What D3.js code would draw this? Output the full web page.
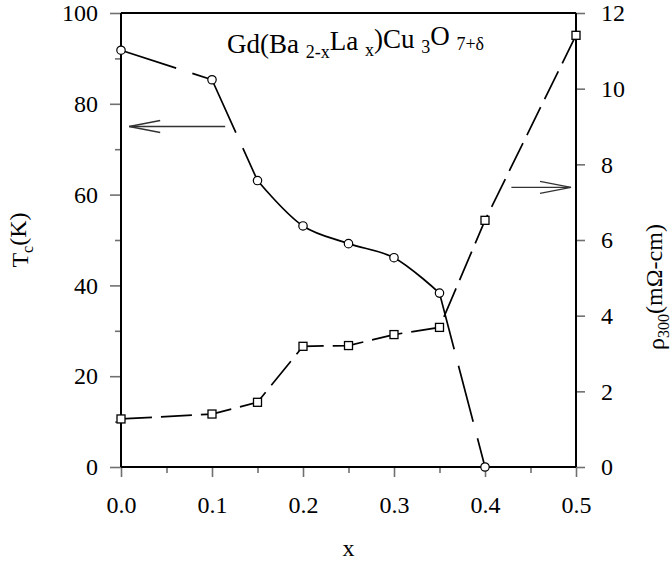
<!DOCTYPE html>
<html>
<head>
<meta charset="utf-8">
<script src="https://cdn.jsdelivr.net/npm/d3@7"></script>
<style>
  html, body { margin: 0; padding: 0; background: #fff; }
  svg { display: block; }
  text { font-family: "Liberation Serif", "Times New Roman", serif; fill: #000; }
</style>
</head>
<body>
<svg id="chart" width="672" height="570"></svg>
<script>
// ---------- data ----------
const tcX    = [0, 0.10, 0.15, 0.20, 0.25, 0.30, 0.35, 0.40];
const tcVals = [91.8, 85.3, 63.1, 53.1, 49.2, 46.1, 38.3, 0];
const rhoX    = [0, 0.10, 0.15, 0.20, 0.25, 0.30, 0.35, 0.40, 0.50];
const rhoVals = [1.27, 1.40, 1.71, 3.19, 3.21, 3.50, 3.69, 6.52, 11.41];

const xTicks      = [0, 0.1, 0.2, 0.3, 0.4, 0.5];
const xMinorTicks = [0.05, 0.15, 0.25, 0.35, 0.45];
const yLTicks      = [0, 20, 40, 60, 80, 100];
const yLMinorTicks = [10, 30, 50, 70, 90];
const yRTicks      = [0, 2, 4, 6, 8, 10, 12];

// ---------- layout ----------
const W = 672, H = 570;
const L = 121, R = 576, T = 13, B = 467;

const svg = d3.select("#chart");

const x  = d3.scaleLinear().domain([0, 0.5]).range([L, R]);
const yL = d3.scaleLinear().domain([0, 100]).range([B, T]);
const yR = d3.scaleLinear().domain([0, 12]).range([B, T]);

const tickColor = "#707070";
const fontSize = 24;

function styleAxis(g) {
  g.select(".domain").remove();
  g.selectAll(".tick line").attr("stroke", tickColor).attr("stroke-width", 1.6);
  g.selectAll("text").style("font-size", fontSize + "px")
    .style("font-family", '"Liberation Serif", "Times New Roman", serif');
}

// bottom axis
svg.append("g").attr("transform", `translate(0,${B})`)
  .call(d3.axisBottom(x).tickValues(xTicks).tickFormat(d3.format(".1f")).tickSize(10).tickPadding(19))
  .call(styleAxis);
svg.append("g").attr("transform", `translate(0,${B})`)
  .call(d3.axisBottom(x).tickValues(xMinorTicks).tickFormat("").tickSize(6))
  .call(styleAxis);

// left axis
svg.append("g").attr("transform", `translate(${L},0)`)
  .call(d3.axisLeft(yL).tickValues(yLTicks).tickFormat(d3.format("d")).tickSize(11).tickPadding(12))
  .call(styleAxis);
svg.append("g").attr("transform", `translate(${L},0)`)
  .call(d3.axisLeft(yL).tickValues(yLMinorTicks).tickFormat("").tickSize(6))
  .call(styleAxis);

// right axis
svg.append("g").attr("transform", `translate(${R},0)`)
  .call(d3.axisRight(yR).tickValues(yRTicks).tickFormat(d3.format("d")).tickSize(9).tickPadding(16))
  .call(styleAxis);

// frame
const frame = svg.append("g").attr("stroke", "#000").attr("stroke-width", 2).attr("fill", "none");
frame.append("line").attr("x1", L).attr("x2", R).attr("y1", T).attr("y2", T);
frame.append("line").attr("x1", L).attr("x2", R).attr("y1", B).attr("y2", B);
frame.append("line").attr("x1", L).attr("x2", L).attr("y1", T).attr("y2", B);
frame.append("line").attr("x1", R).attr("x2", R).attr("y1", T).attr("y2", B);

// ---------- lines ----------
const tcPts  = tcX.map((d, i) => [d, tcVals[i]]);
const rhoPts = rhoX.map((d, i) => [d, rhoVals[i]]);

const lineTcLin = d3.line().x(d => x(d[0])).y(d => yL(d[1]));
const lineTcCurve = d3.line().x(d => x(d[0])).y(d => yL(d[1])).curve(d3.curveCatmullRom.alpha(0.5));
const lineRho = d3.line().x(d => x(d[0])).y(d => yR(d[1]));

const lines = svg.append("g").attr("fill", "none").attr("stroke", "#000").attr("stroke-width", 1.7);

// Tc: dashed straight segments, solid smooth curve through 0.15..0.35
const solidStart = 2, solidEnd = 6;
for (let i = 0; i < tcPts.length - 1; i++) {
  if (i >= solidStart && i < solidEnd) continue;
  lines.append("path").attr("d", lineTcLin([tcPts[i], tcPts[i + 1]]))
    .attr("stroke-dasharray", "58,17");
}
lines.append("path").attr("d", lineTcCurve(tcPts.slice(solidStart, solidEnd + 1)));

// rho: dashed
lines.append("path").attr("d", lineRho(rhoPts)).attr("stroke-dasharray", "31,9");

// ---------- markers ----------
svg.append("g").selectAll("circle").data(tcPts).join("circle")
  .attr("cx", d => x(d[0])).attr("cy", d => yL(d[1])).attr("r", 4.2)
  .attr("fill", "#fff").attr("stroke", "#000").attr("stroke-width", 1.2);

const sq = 8;
svg.append("g").selectAll("rect").data(rhoPts).join("rect")
  .attr("x", d => x(d[0]) - sq / 2).attr("y", d => yR(d[1]) - sq / 2)
  .attr("width", sq).attr("height", sq)
  .attr("fill", "#fff").attr("stroke", "#000").attr("stroke-width", 1.3);

// ---------- arrows ----------
function arrow(x1, x2, yPix) {
  const g = svg.append("g").attr("stroke", "#333").attr("stroke-width", 1.3).attr("fill", "none");
  g.append("line").attr("x1", x1).attr("x2", x2).attr("y1", yPix).attr("y2", yPix);
  const dir = Math.sign(x2 - x1);
  const hl = 31, hw = 6;
  g.append("path").attr("d", `M${x2 - dir * hl},${yPix - hw}L${x2},${yPix}L${x2 - dir * hl},${yPix + hw}`);
}
arrow(x(0.1145), x(0.009), yL(75));
arrow(x(0.429), x(0.4945), yR(7.39));

// ---------- titles ----------
const title = svg.append("text").attr("x", (L + R) / 2 + 7).attr("y", 53)
  .attr("text-anchor", "middle").style("font-size", "27px");
const sub = (t) => title.append("tspan").attr("dy", "0.3em").style("font-size", "18px").text(t);
title.append("tspan").text("Gd(Ba ");
sub("2-x");
title.append("tspan").attr("dy", "-0.3em").text("La ");
sub("x");
title.append("tspan").attr("dy", "-0.3em").text(")Cu ");
sub("3");
title.append("tspan").attr("dy", "-0.3em").text("O ");
sub("7+δ");

// x label
svg.append("text").attr("x", (L + R) / 2).attr("y", 556).attr("text-anchor", "middle")
  .style("font-size", fontSize + "px").text("x");

// left label
const yl = svg.append("text").attr("transform", `translate(28,${(T + B) / 2}) rotate(-90)`)
  .attr("text-anchor", "middle").style("font-size", fontSize + "px");
yl.append("tspan").text("T");
yl.append("tspan").attr("dy", "0.3em").style("font-size", "16px").text("c");
yl.append("tspan").attr("dy", "-0.3em").text("(K)");

// right label
const yr = svg.append("text").attr("transform", `translate(664,287) rotate(-90)`)
  .attr("text-anchor", "middle").style("font-size", fontSize + "px");
yr.append("tspan").text("ρ");
yr.append("tspan").attr("dy", "0.3em").style("font-size", "16px").text("300");
yr.append("tspan").attr("dy", "-0.3em").text("(mΩ-cm)");
</script>
</body>
</html>
